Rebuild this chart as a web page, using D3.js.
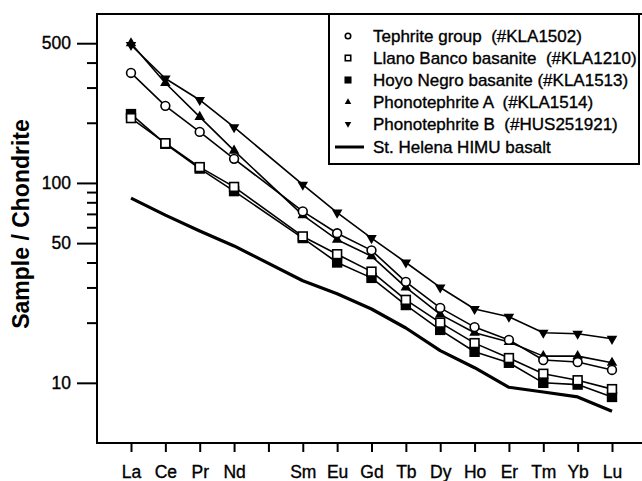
<!DOCTYPE html>
<html>
<head>
<meta charset="utf-8">
<script src="https://cdn.jsdelivr.net/npm/d3@7"></script>
<style>
  html, body { margin: 0; padding: 0; background: #fff; }
  svg { display: block; font-family: "Liberation Sans", Arial, Helvetica, sans-serif; }
  .heavy { stroke: #000; stroke-width: 0.35px; }
</style>
</head>
<body>
<div id="chart"></div>
<script>
// REE order on the x axis (Pm has a tick but no label and no data)
const tickLabels = ['La', 'Ce', 'Pr', 'Nd', '', 'Sm', 'Eu', 'Gd', 'Tb', 'Dy', 'Ho', 'Er', 'Tm', 'Yb', 'Lu'];
const elements = ['La', 'Ce', 'Pr', 'Nd', 'Sm', 'Eu', 'Gd', 'Tb', 'Dy', 'Ho', 'Er', 'Tm', 'Yb', 'Lu'];

// Chondrite-normalised values
const tephrite = [355, 243, 180, 132, 72, 56, 46, 32, 23.7, 19, 16.4, 13, 12.7, 11.6];
const llanoBanco = [211, 158, 120, 95.5, 54, 44, 36, 26, 20, 15.8, 13.3, 11.1, 10.3, 9.3];
const hoyoNegro = [221, 157, 118, 91, 53, 40, 33.5, 24.5, 18.4, 14.3, 12.6, 10, 9.8, 8.5];
const phonoA = [500, 316, 214, 145, 69, 52, 43, 30, 22, 17.8, 16, 13.6, 13.6, 12.6];
const phonoB = [490, 333, 260, 190, 98, 71, 53, 40, 30, 23.4, 21.4, 17.8, 17.6, 16.6];
const stHelena = [84, 69, 57.5, 48.4, 32.4, 27.9, 23.4, 18.8, 14.5, 11.9, 9.5, 9.0, 8.5, 7.2];

const majorTicks = [500, 100, 50, 10];
const minorTicks = [400, 300, 200, 90, 80, 70, 60, 40, 30, 20];

const series = [
    { name: 'St. Helena HIMU basalt', values: stHelena, symbol: null },
    { name: 'Phonotephrite A  (#KLA1514)', values: phonoA, symbol: 'up' },
    { name: 'Phonotephrite B  (#HUS251921)', values: phonoB, symbol: 'down' },
    { name: 'Hoyo Negro basanite (#KLA1513)', values: hoyoNegro, symbol: 'filledSquare' },
    { name: 'Tephrite group  (#KLA1502)', values: tephrite, symbol: 'circle' },
    { name: 'Llano Banco basanite  (#KLA1210)', values: llanoBanco, symbol: 'square' }
];
const legendOrder = [4, 5, 3, 1, 2, 0];

const width = 642, height = 481;
const frame = { left: 97, right: 642, top: 14, bottom: 443 };

// Create SVG
const svg = d3.select('#chart')
    .append('svg')
    .attr('width', width)
    .attr('height', height);

const x = d3.scaleLinear().domain([0, 14]).range([131, 612]);
const y = d3.scaleLog().domain([5, 700]).range([frame.bottom, frame.top]);

// Axes
svg.append('g')
    .attr('transform', `translate(${frame.left},0)`)
    .call(d3.axisLeft(y).tickValues(majorTicks).tickFormat(d3.format('d')).tickSize(20).tickPadding(6));
svg.append('g')
    .attr('transform', `translate(${frame.left},0)`)
    .call(d3.axisLeft(y).tickValues(minorTicks).tickFormat('').tickSize(10));

svg.append('g')
    .attr('transform', `translate(0,${frame.bottom})`)
    .call(d3.axisBottom(x).tickValues(d3.range(tickLabels.length)).tickFormat(i => tickLabels[i]).tickSize(9).tickPadding(14));

svg.selectAll('.domain').remove();
svg.selectAll('.tick line').attr('stroke', '#000').attr('stroke-width', 2);
svg.selectAll('.tick text').attr('fill', '#000').attr('font-size', 17.5).attr('class', 'heavy');

// Frame lines (no right edge visible in the figure)
svg.append('path')
    .attr('d', `M${frame.right},${frame.top}H${frame.left}V${frame.bottom}H${frame.right}`)
    .attr('fill', 'none')
    .attr('stroke', '#000')
    .attr('stroke-width', 2);

// Y label
svg.append('text')
    .attr('transform', 'translate(29,224) rotate(-90)')
    .attr('text-anchor', 'middle')
    .attr('font-size', 23)
    .attr('font-weight', 'bold')
    .text('Sample / Chondrite');

const posOf = el => x(tickLabels.indexOf(el));

const line = d3.line()
    .x((d, i) => posOf(elements[i]))
    .y(d => y(d));

function drawSymbol(sel, type, big) {
    const s = big ? 1 : 0.62;
    if (type === 'circle') {
        sel.append('circle').attr('r', 4.4 * s)
            .attr('fill', '#fff').attr('stroke', '#000').attr('stroke-width', 1.6);
    } else if (type === 'square' || type === 'filledSquare') {
        const h = 4.4 * s;
        sel.append('rect').attr('x', -h).attr('y', -h).attr('width', 2 * h).attr('height', 2 * h)
            .attr('fill', type === 'square' ? '#fff' : '#000')
            .attr('stroke', '#000').attr('stroke-width', 1.6);
    } else {
        const path = d3.symbol(d3.symbolTriangle, 48 * s * s)();
        sel.append('path').attr('d', path)
            .attr('transform', type === 'down' ? 'rotate(180)' : null)
            .attr('fill', '#000');
    }
}

// Lines and markers
series.forEach(s => {
    svg.append('path')
        .datum(s.values)
        .attr('d', line)
        .attr('fill', 'none')
        .attr('stroke', '#000')
        .attr('stroke-width', s.symbol ? 1.6 : 3.2)
        .attr('stroke-linejoin', 'round');
});

series.filter(s => s.symbol).forEach(s => {
    svg.append('g').selectAll('g')
        .data(s.values)
        .enter()
        .append('g')
        .attr('transform', (d, i) => `translate(${posOf(elements[i])},${y(d)})`)
        .each(function () { drawSymbol(d3.select(this), s.symbol, true); });
});

// Legend
const legend = svg.append('g');
legend.append('rect')
    .attr('x', 329).attr('y', frame.top)
    .attr('width', 310).attr('height', 150)
    .attr('fill', '#fff')
    .attr('stroke', '#000')
    .attr('stroke-width', 2);

const rowY = [36, 58, 80, 102, 124, 147];
legendOrder.forEach((k, r) => {
    const s = series[k];
    const g = legend.append('g').attr('transform', `translate(348,${rowY[r]})`);
    if (s.symbol) {
        drawSymbol(g, s.symbol, false);
    } else {
        g.append('line').attr('x1', -13).attr('x2', 16)
            .attr('stroke', '#000').attr('stroke-width', 3);
    }
    legend.append('text')
        .attr('x', 373)
        .attr('y', rowY[r] + 6)
        .attr('font-size', 17)
        .attr('class', 'heavy')
        .style('white-space', 'pre')
        .text(s.name);
});
</script>
</body>
</html>
